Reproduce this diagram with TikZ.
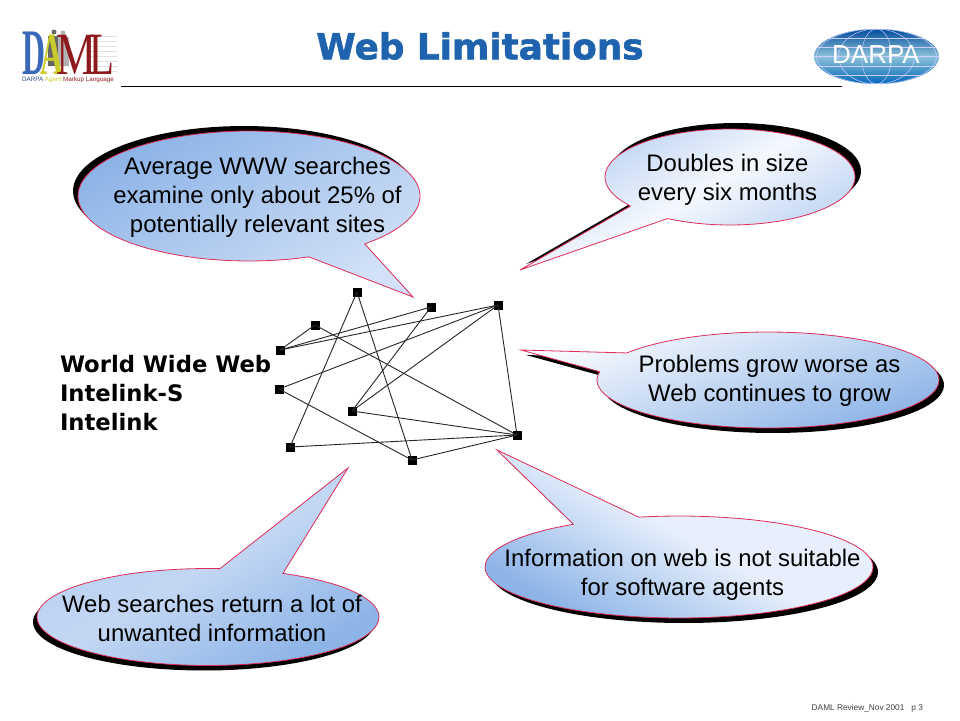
\documentclass[tikz,border=0pt]{standalone}
\usepackage{fontspec}
\setmainfont{Liberation Sans}
\newfontfamily\wideface[FakeBold=1.6]{DejaVu Sans Bold}
\newfontfamily\labelface{DejaVu Sans}
\newfontfamily\logoface{Liberation Serif}
\usetikzlibrary{arrows.meta,shapes.geometric,positioning}
\definecolor{bubbleline}{HTML}{DE2C58}
\definecolor{bubbledark}{HTML}{8DB4E7}
\definecolor{bubblemid}{HTML}{B4CDF0}
\definecolor{bubblelight}{HTML}{E6EFFB}
\definecolor{titleblue}{HTML}{1F63AE}
\definecolor{logored}{HTML}{8E1A1E}
\definecolor{logoblue}{HTML}{3A68B8}
\definecolor{logoyellow}{HTML}{C9CC2A}
\newcommand{\bubble}[9]{%
  \fill[black,shift={(#1)}] plot[domain=#7:#8,samples=90] ({#3+#5*cos(\x)},{#4+#6*sin(\x)}) -- #9 -- cycle;
  \shadedraw[bubbleshape,#2] plot[domain=#7:#8,samples=90] ({#3+#5*cos(\x)},{#4+#6*sin(\x)}) -- #9 -- cycle;
}
\begin{document}
\begin{tikzpicture}[x=1pt, y=-1pt,
    every node/.style={inner sep=0pt, outer sep=0pt},
    bubbleshape/.style={draw=bubbleline, line width=0.8pt},
    bubbletext/.style={align=center, font=\fontsize{23.9}{29}\selectfont},
    webnode/.style={fill=black, minimum size=9pt},
    webedge/.style={line width=0.9pt, black!85},
    weblabel/.style={font=\labelface\bfseries\fontsize{22.7}{29}\selectfont, anchor=west}]
  \useasboundingbox (0,0) rectangle (960,720);

  % Title
  \node[text=titleblue, font=\wideface\fontsize{35.8}{40}\selectfont] (title) at (480,46) {Web Limitations};
  \draw[line width=0.8pt] (121,86) -- (842,86);

  % DAML logo
  \begin{scope}
    \foreach \y in {36,41,...,71} \draw[black!12, line width=0.5pt] (88,\y) -- (117,\y);
    \fill[black!60] (54,32) circle (2.5) (48,36) rectangle (60,66);
    \fill[black!30] (63,33) circle (2.5) (58,37) rectangle (69,66);
    \node[anchor=base west, font=\logoface\fontsize{60}{60}\selectfont] (logo) at (22,74.5)
      {\textcolor{logoblue}{\scalebox{.49}[1]{\fontsize{65}{65}\selectfont\bfseries D}}\hspace{-5pt}\textcolor{logoyellow}{\scalebox{.53}[1]{\bfseries A}}\hspace{-6pt}\textcolor{logored}{\scalebox{.75}[1]{M}}\hspace{-7pt}\textcolor{logored}{\scalebox{.68}[1]{L}}};
    \node[anchor=west, font=\fontsize{6.3}{8}\selectfont] (logotext) at (22,80) {\textcolor{logoblue!70!black}{DARPA} \textcolor{logoyellow}{Agent} \textcolor{logored}{Markup Language}};
  \end{scope}

  % DARPA logo
  \begin{scope}
    \shade[top color=blue!45!black!70!cyan, bottom color=blue!55!black!60!cyan, middle color=blue!30!cyan!35!white!85!black] (876.5,56.5) ellipse (62.5 and 27.5);
    \begin{scope}
      \clip (876.5,56.5) ellipse (62.5 and 27.5);
      \foreach \rad in {15,38,60} \draw[white!80!blue, line width=0.5pt] (876.5,56.5) ellipse ({\rad} and 27.5);
      \foreach \y in {38,47,56.5,66,75} \draw[white!80!blue, line width=0.5pt] (810,\y) -- (943,\y);
    \end{scope}
    \node[text=white, font=\fontsize{26}{28}\selectfont] (darpa) at (876,55) {DARPA};
  \end{scope}

  % Callouts
  \bubble{-5,-5}{top color=bubbledark, bottom color=bubblelight!60!bubblemid, shading angle=30}{249}{196}{171}{65}{69.5}{407.4}{(413,297)}
  \bubble{6,-6}{top color=bubblemid, bottom color=bubblemid, middle color=bubblelight!40!white, shading angle=30}{730}{177}{125}{48}{142.7}{480}{(520,270)}
  \bubble{5,5}{top color=white!85!bubblelight, bottom color=bubbledark, shading angle=20}{768}{380}{171}{48}{214.3}{550}{(521,350)}
  \bubble{5,5}{top color=bubblelight, bottom color=bubbledark, middle color=bubblelight, shading angle=-30}{679}{567}{194}{51}{258}{597}{(497,450)}
  \bubble{-4,5}{top color=bubblemid, bottom color=bubbledark, middle color=bubblemid!70!bubblelight, shading angle=30}{208}{617}{171}{48.5}{296}{634}{(348,468)}

  \node[bubbletext] (searches) at (257.5,197) {Average WWW searches\\examine only about 25\% of\\potentially relevant sites};
  \node[bubbletext] (doubles) at (727.5,180) {Doubles in size\\every six months};
  \node[bubbletext] (problems) at (769.5,381) {Problems grow worse as\\Web continues to grow};
  \node[bubbletext] (agents) at (682.5,574.5) {Information on web is not suitable\\for software agents};
  \node[bubbletext] (unwanted) at (212,618.5) {Web searches return a lot of\\unwanted information};

  % Web
  \node[webnode] (wa) at (357,292) {};
  \node[webnode] (wb) at (431,307) {};
  \node[webnode] (wc) at (498,305) {};
  \node[webnode] (wd) at (315,325) {};
  \node[webnode] (we) at (280,350) {};
  \node[webnode] (wf) at (279,389) {};
  \node[webnode] (wg) at (352,411) {};
  \node[webnode] (wh) at (517,435) {};
  \node[webnode] (wi) at (290,447) {};
  \node[webnode] (wj) at (412,460) {};
  \foreach \s/\t in {wd/we, we/wb, we/wc, wf/wc, wf/wj, wa/wi, wa/wj, wb/wg, wc/wg, wc/wh, wd/wh, wg/wh, wi/wh, wj/wh}
    \draw[webedge] (\s.center) -- (\t.center);

  \node[weblabel] (www) at (60,364) {World Wide Web};
  \node[weblabel] (intelinks) at (60,393) {Intelink-S};
  \node[weblabel] (intelink) at (60,422) {Intelink};

  % Footer
  \node[anchor=east, text=black!75, font=\fontsize{8.3}{11}\selectfont] (footer) at (923,708) {DAML Review\_Nov 2001\hspace{7pt}p 3};
\end{tikzpicture}
\end{document}
